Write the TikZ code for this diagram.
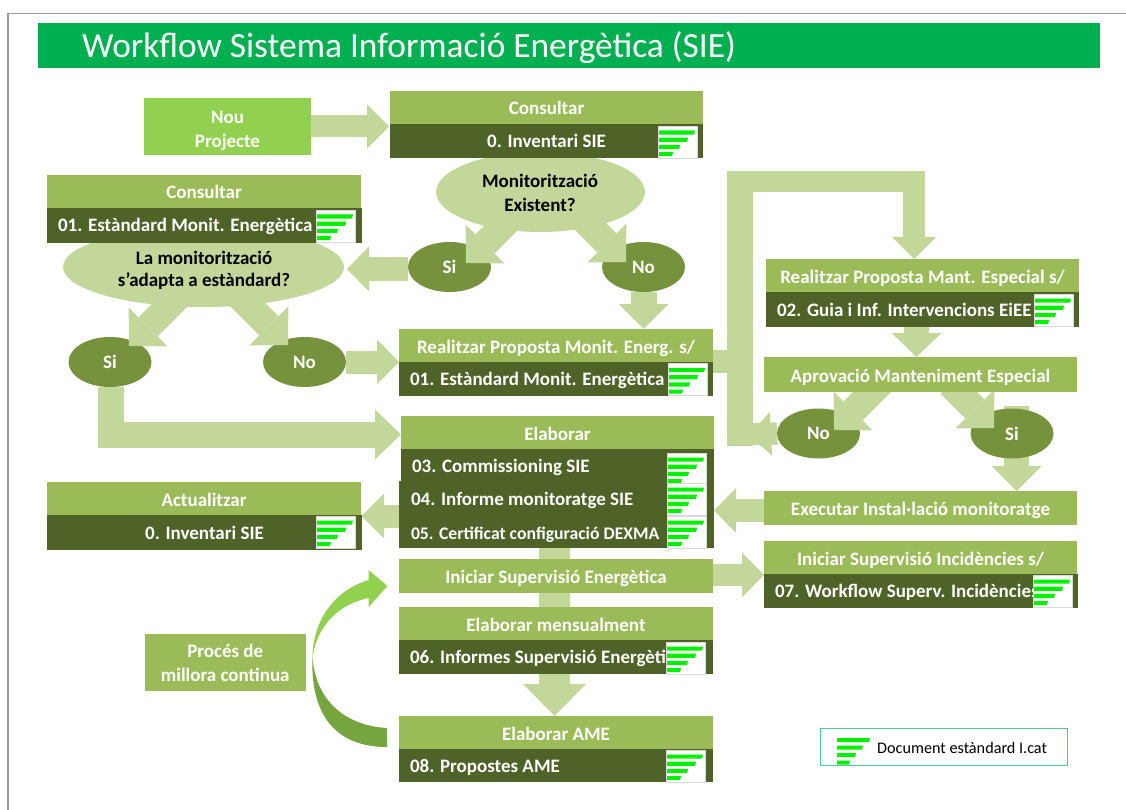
\documentclass[tikz,border=0pt]{standalone}
\usepackage{fontspec}
\setmainfont{Carlito}
\usetikzlibrary{arrows.meta,shapes.geometric,calc}
\definecolor{hdrc}{HTML}{9BBB59}
\definecolor{darkc}{HTML}{4F6228}
\definecolor{lightc}{HTML}{C4D79B}
\definecolor{ovalc}{HTML}{76923C}
\definecolor{titlec}{HTML}{00B050}
\definecolor{newc}{HTML}{92D050}
\definecolor{curvec}{HTML}{76A53F}
\definecolor{barc}{HTML}{00F000}
\definecolor{framec}{HTML}{999999}
\definecolor{legc}{HTML}{40CF8F}
\newcommand\fs{\fontsize{19}{23}\selectfont\bfseries}
\tikzset{
  x=1pt,y=-1pt,
  hdr/.style={fill=hdrc,inner sep=0pt,outer sep=0pt,text=white,font=\fs,text height=17pt,text depth=2pt},
  titlebar/.style={fill=titlec,inner sep=0pt,outer sep=0pt},
  bodyc/.style={fill=darkc,inner sep=0pt,outer sep=0pt,text=white,font=\fs,text height=15pt,text depth=2pt},
  bodyl/.style={bodyc,text width={\bw pt-22pt},inner xsep=11pt,align=flush left},
  newbox/.style={fill=newc,inner sep=0pt,outer sep=0pt,text=white,font=\fs,align=center},
  multi/.style={fill=hdrc,inner sep=0pt,outer sep=0pt,text=white,font=\fs,align=center},
  oval/.style={ellipse,fill=ovalc,inner sep=0pt,outer sep=0pt,minimum width=83pt,minimum height=50pt,text=white,font=\fs},
  bigoval/.style={ellipse,fill=lightc,inner sep=0pt,outer sep=0pt},
  quest/.style={inner sep=0pt,text=black,font=\fs,align=center},
  blockarr/.style n args={3}{draw=lightc,line width=#1pt,line join=miter,miter limit=10,-{Triangle[length=#2pt,width=#3pt,line width=0pt,fill=lightc]}},
  shaft/.style={draw=lightc,line width=#1pt,line join=miter,miter limit=10},
  pics/stdicon/.style={code={
    \fill[white,draw=black!15,line width=.8pt] (0,0) rectangle (39,32);
    \fill[barc] (1,4.5) -- (37,4.5) -- (36,8.7) -- (1,8.7) -- cycle;
    \fill[barc] (1,11.7) -- (30,11.7) -- (29,15.9) -- (1,15.9) -- cycle;
    \fill[barc] (1,18.9) -- (22,18.9) -- (21,23.1) -- (1,23.1) -- cycle;
    \fill[barc] (1,26) -- (15,26) -- (14,30.2) -- (1,30.2) -- cycle;
  }},
  pics/legicon/.style={code={
    \fill[barc] (0,0) -- (33,0) -- (32,4) -- (0,4) -- cycle;
    \fill[barc] (0,7.5) -- (26,7.5) -- (25,11.5) -- (0,11.5) -- cycle;
    \fill[barc] (0,15) -- (19,15) -- (18,19) -- (0,19) -- cycle;
    \fill[barc] (0,22.5) -- (13,22.5) -- (12,26.5) -- (0,26.5) -- cycle;
  }},
}
\newcommand\bx[8][]{%
  \pgfmathsetmacro\bw{#6-#4}\pgfmathsetmacro\bh{#7-#5}%
  \node[#2,minimum width=\bw pt,minimum height=\bh pt,#1] (#3) at ({(#4+#6)/2},{(#5+#7)/2}) {#8};}
\begin{document}
\begin{tikzpicture}
\useasboundingbox (0,0) rectangle (1126,810);
% frame
\coordinate (fa) at (8,810); \coordinate (fb) at (8,13.5); \coordinate (fc) at (1126,13.5);
\draw[framec,line width=1.5pt] (fa) -- (fb) -- (fc);
% title
\bx{titlebar}{title}{38}{23}{1100}{68}{}
\node[inner sep=0pt,anchor=west,text=white,font=\fontsize{35.4}{40}\selectfont] (titleT) at (82,47.5) {Workflow Sistema Informació Energètica (SIE)};

% shaft that runs beneath an oval
\coordinate (si3top) at (1016.5,406);
\coordinate (exTip) at (1016.5,491);
\draw[blockarr={24.5}{25}{50}] (si3top) -- (exTip);

% ovals
\node[bigoval,minimum width=209pt,minimum height=80pt] (mon) at (540.5,192) {};
\node[bigoval,minimum width=281pt,minimum height=80pt] (la) at (203.5,267) {};
\node[oval] (siA) at (449.5,267) {Si};
\node[oval] (noA) at (643.5,267) {No};
\node[oval] (siB) at (110,362) {Si};
\node[oval] (noB) at (304.5,362) {No};
\node[oval] (noC) at (818.5,433.5) {No};
\node[oval] (siC) at (1012,433.5) {Si};

% diagonal arrows
\coordinate (monL) at (540,189); \coordinate (siAtip) at (466,263);
\coordinate (monR) at (556,192); \coordinate (noAtip) at (626,262);
\coordinate (laL) at (207,268);  \coordinate (siBtip) at (129,346);
\coordinate (laR) at (210,267);  \coordinate (noBtip) at (288,345);
\coordinate (apL) at (890,374);  \coordinate (noCtip) at (834,430);
\coordinate (apR) at (950,384);  \coordinate (siCtip) at (994,428);
\draw[blockarr={27}{27}{55}] (monL) -- (siAtip);
\draw[blockarr={27}{27}{55}] (monR) -- (noAtip);
\draw[blockarr={27}{27}{55}] (laL) -- (siBtip);
\draw[blockarr={27}{27}{55}] (laR) -- (noBtip);
\draw[blockarr={27}{27}{55}] (apL) -- (noCtip);
\draw[blockarr={27}{27}{55}] (apR) -- (siCtip);

% boxes
\bx{newbox}{nou}{144}{98}{311}{155}{\rule{0pt}{21pt}Nou\\[1pt]Projecte}
\bx{hdr}{consA}{390}{91}{703}{124}{Consultar}
\bx{bodyc}{consAb}{390}{124}{703}{158}{0. Inventari SIE}
\bx{hdr}{consB}{47}{175}{361}{208}{Consultar}
\bx{bodyl}{consBb}{47}{208}{362}{243}{01. Estàndard Monit. Energètica}
\bx{hdr}{real}{399}{329}{713}{362}{Realitzar Proposta Monit. Energ. s/}
\bx{bodyl}{realb}{399}{362}{713}{396}{01. Estàndard Monit. Energètica}
\bx{hdr}{elab}{401}{416}{714}{449}{Elaborar}
\bx[inner xsep=10pt]{bodyl}{rowc}{401}{449}{714}{482}{03. Commissioning SIE}
\bx[inner xsep=12pt,text width=291pt,text height=16pt]{bodyl}{rowd}{399}{481}{714}{515}{04. Informe monitoratge SIE}
\bx[inner xsep=12pt,text width=291pt,text height=17pt,text depth=1pt,font=\fontsize{17.7}{20}\selectfont\bfseries]{bodyl}{rowe}{399}{514}{714}{548}{05. Certificat configuració DEXMA}
\bx{hdr}{act}{47}{482}{361}{515}{Actualitzar}
\bx{bodyc}{actb}{47}{515}{362}{550}{0. Inventari SIE}
\bx{hdr}{ini}{399}{559}{713}{593}{Iniciar Supervisió Energètica}
\bx{hdr}{mens}{399}{607}{713}{640}{Elaborar mensualment}
\bx{bodyl}{mensb}{399}{640}{713}{674}{06. Informes Supervisió Energètica}
\bx{hdr}{ame}{399}{716}{713}{749}{Elaborar AME}
\bx{bodyl}{ameb}{399}{749}{713}{782}{08. Propostes AME}
\bx{multi}{proc}{144.5}{634}{306}{691}{Procés de\\[1pt]millora continua}
\bx{hdr}{mant}{766}{259}{1079}{292}{Realitzar Proposta Mant. Especial s/}
\bx{bodyl}{mantb}{766}{292}{1079}{327}{02. Guia i Inf. Intervencions EiEE}
\bx{hdr}{apr}{764}{357}{1077}{392}{Aprovació Manteniment Especial}
\bx{hdr}{exe}{764}{491}{1077}{525}{Executar Instal·lació monitoratge}
\bx{hdr}{inc}{764}{541}{1077}{574}{Iniciar Supervisió Incidències s/}
\bx{bodyl}{incb}{764}{574}{1078}{608}{07. Workflow Superv. Incidències}

% straight block arrows
\coordinate (nouEnd) at ($(nou.east -| consA.west)+(-1,0)$);
\draw[blockarr={22}{22}{44}] (nou.east) -- (nouEnd);
\coordinate (laTip) at (347,269);
\draw[blockarr={24}{22}{45}] (laTip -| siA.west) -- (laTip);
\draw[blockarr={26}{25}{50}] (noA.south) -- (real.north -| noA.south);
\draw[blockarr={23}{22}{45}] (noB.east) -- (noB.east -| real.west);
\coordinate (siBcorner) at (110.5,434.5);
\draw[blockarr={26}{26}{50}] (siB.south -| siBcorner) -- (siBcorner) -- (siBcorner -| elab.west);
\coordinate (actTip) at (361.5,516);
\draw[blockarr={23}{22.5}{45}] (actTip -| rowe.west) -- (actTip);
\coordinate (exeTip) at (714,510.5);
\draw[blockarr={23}{22}{45}] (exeTip -| exe.west) -- (exeTip);
\coordinate (iniS) at (713,575);
\draw[blockarr={22}{22}{45}] (iniS) -- (iniS -| incb.west);
\coordinate (axT) at (554.5,548);
\draw[shaft=31] (rowe.south -| axT) -- (ini.north -| axT);
\draw[shaft=31] (ini.south -| axT) -- (mens.north -| axT);
\draw[blockarr={31}{32}{63}] (mensb.south -| axT) -- (ame.north -| axT);
\coordinate (axM) at (916.5,340);
\draw[blockarr={25}{24}{50}] (mantb.south -| axM) -- (apr.north -| axM);

% long connector from Realitzar to Mant., and back from No
\coordinate (stubR) at (740,361.5);
\coordinate (stubL) at (713,361.5);
\coordinate (botL) at (740,446);
\coordinate (topL) at (740,171);
\coordinate (barL) at (727,181.5);
\coordinate (topR) at (914,181.5);
\coordinate (noBar) at (727,435);
\coordinate (noTip) at (749,435);
\draw[shaft=23] (stubL) -- (stubR);
\draw[shaft=26] (botL) -- (topL);
\draw[shaft=21] (barL) -- (topR);
\draw[blockarr={22}{22}{44}] (topL -| topR) -- (mant.north -| topR);
\draw[shaft=22] (noC.west) -- (noBar);
\draw[blockarr={22}{22}{44}] (noC.west) -- (noTip);

% curved arrow
\fill[curvec] (387,728) .. controls (350,726) and (316,705) .. (312.5,657)
  .. controls (311,690) and (318,747) .. (387,747) -- cycle;
\fill[newc] (387.5,586) -- (368.6,570) -- (368.6,580)
  .. controls (335,590) and (312,620) .. (312.5,660)
  .. controls (315,630) and (335,605) .. (368.6,598)
  -- (368.6,607) -- cycle;

% oval questions
\node[quest,font=\fontsize{19}{24}\selectfont\bfseries] (monT) at (540,192.5) {Monitorització\\Existent?};
\node[quest,font=\fontsize{19}{22}\selectfont\bfseries] (laT) at (204,270) {La monitorització\\s’adapta a estàndard?};

% icons
\pic at (658,126) {stdicon};
\pic at (316,210) {stdicon};
\pic at (668,363.5) {stdicon};
\pic at (667,453) {stdicon};
\pic at (667,483) {stdicon};
\pic at (667,516) {stdicon};
\pic at (316,516) {stdicon};
\pic at (666,642) {stdicon};
\pic at (666,750) {stdicon};
\pic at (1034,294) {stdicon};
\pic at (1033,575) {stdicon};

% legend
\node[draw=legc,line width=1pt,fill=white,inner sep=0pt,minimum width=247pt,minimum height=37pt] (leg) at (944,746.5) {};
\pic at (837,738) {legicon};
\node[inner sep=0pt,anchor=west,text=black,font=\fontsize{16.2}{18}\selectfont] (legT) at (877,748) {Document estàndard I.cat};
\end{tikzpicture}
\end{document}
